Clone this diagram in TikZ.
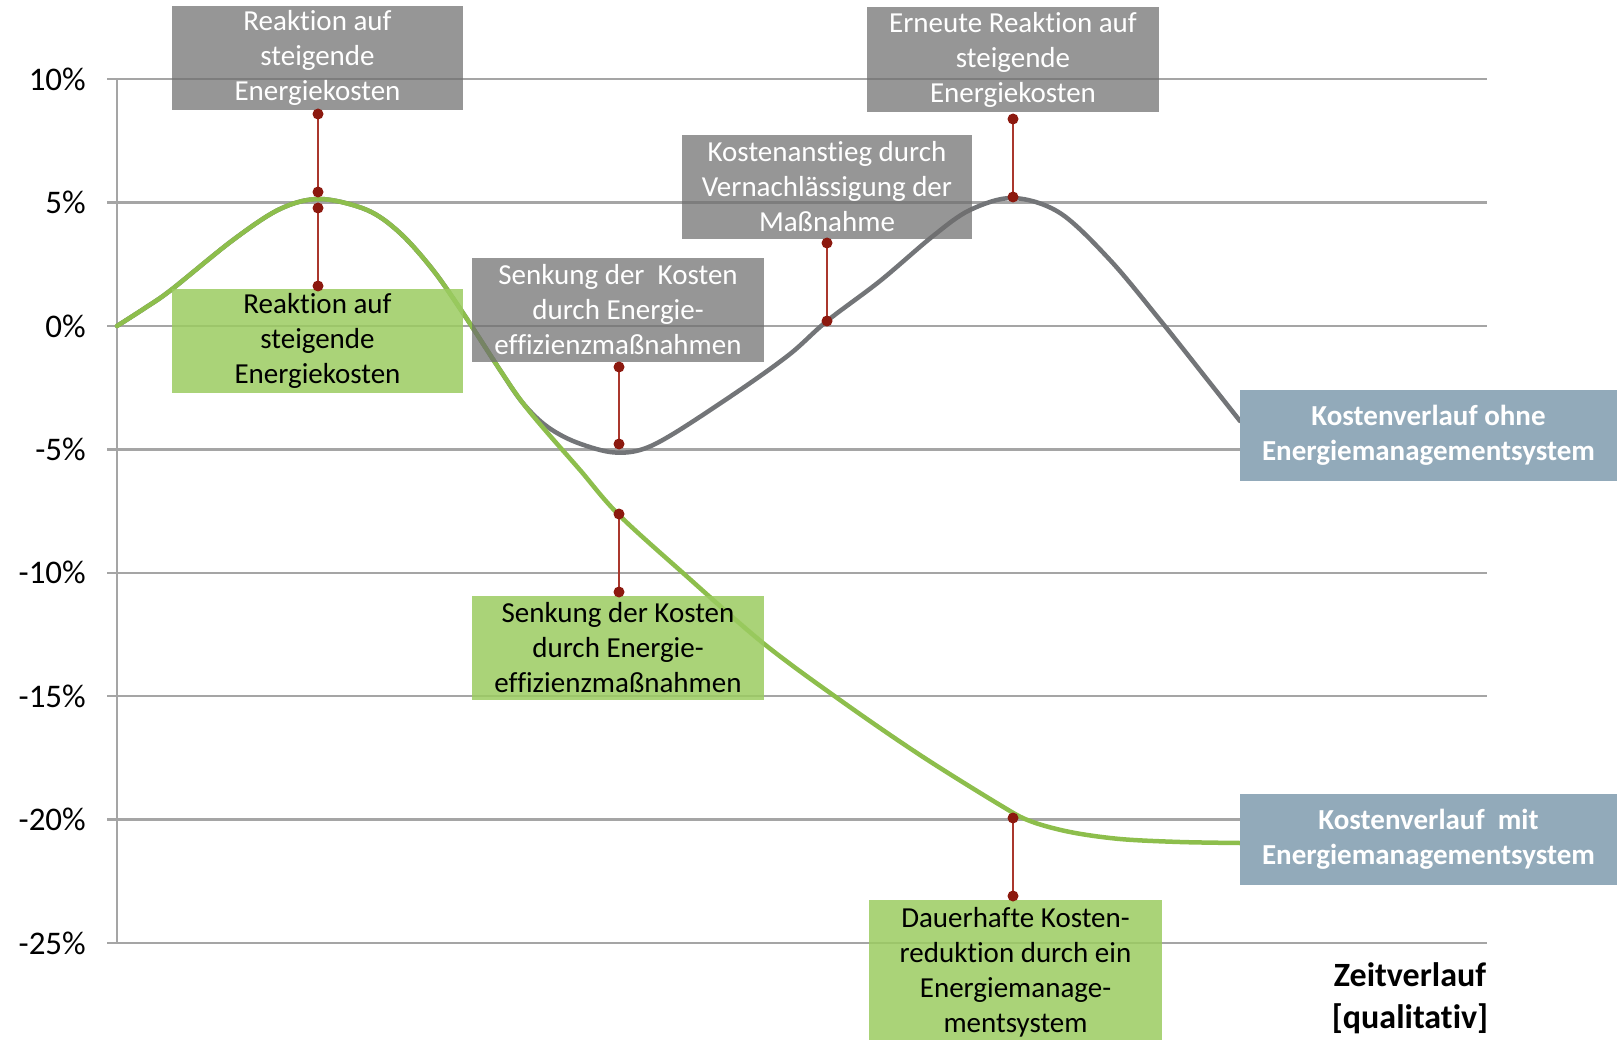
\documentclass[tikz,border=0pt]{standalone}
\usepackage{fontspec}
\setmainfont{Carlito}[Ligatures={NoCommon,NoContextual,NoRare},Contextuals={NoAlternate}]
\definecolor{gridc}{RGB}{165,165,165}
\definecolor{greyline}{RGB}{115,117,120}
\definecolor{greenline}{RGB}{141,190,76}
\definecolor{greyfill}{RGB}{110,110,110}
\definecolor{greenfill}{RGB}{155,203,96}
\definecolor{bluefill}{RGB}{146,170,186}
\definecolor{connc}{RGB}{170,55,45}
\definecolor{dotc}{RGB}{140,25,15}
\begin{document}
\begin{tikzpicture}[x=1pt,y=-1pt,
  gridline/.style={draw=gridc, line width=2.5pt},
  ylab/.style={anchor=east, inner sep=0pt, font=\fontsize{33}{40}\selectfont},
  box/.style={rectangle, inner sep=0pt, align=center, font=\fontsize{29}{35}\selectfont},
  greybox/.style={box, fill=greyfill, fill opacity=0.72, text opacity=1, text=white},
  greenbox/.style={box, fill=greenfill, fill opacity=0.85, text opacity=1, text=black},
  bluebox/.style={box, fill=bluefill, text=white, font=\fontsize{29}{35}\selectfont\bfseries},
  conn/.style={draw=connc, line width=2.2pt},
  dot/.style={fill=dotc},
  curvegrey/.style={draw=greyline, line width=4.5pt, line cap=round, line join=round},
  curvegreen/.style={draw=greenline, line width=4.5pt, line cap=round, line join=round}
]
\useasboundingbox (0,0) rectangle (1622,1040);

% grid
\foreach \v/\lab [count=\i from 0] in {10/10\%,5/5\%,0/0\%,-5/-5\%,-10/-10\%,-15/-15\%,-20/-20\%,-25/-25\%}{
  \pgfmathsetmacro{\yy}{79.2+123.4*\i}
  \draw[gridline] (107,\yy) -- (1487,\yy);
  \node[ylab] (yl\i) at (86,\yy) {\lab};
}
\draw[gridline] (117,79.2) -- (117,943);

% grey curve (without EMS)
\draw[curvegrey] plot[smooth, tension=0.55] coordinates {
 (117,326) (145,308) (171,290) (233,240) (280,209) (320,199) (367,210) (400,233)
 (433,270) (463,313) (500,370) (522,402) (545,425) (573,441) (610,452) (640,450)
 (673,434) (740,390) (790,354) (827,321) (880,281) (933,236) (970,210)
 (1013,198) (1060,213) (1110,260) (1160,320) (1210,383) (1240,421)};

% green curve (with EMS)
\draw[curvegreen] plot[smooth, tension=0.55] coordinates {
 (117,326) (145,308) (171,290) (233,240) (280,209) (320,199) (367,210) (400,233)
 (433,270) (463,313) (500,370) (522,402) (545,430) (580,470) (618,514) (683,573)
 (763,643) (840,700) (920,755) (1000,805) (1030,821) (1070,832) (1120,839)
 (1180,842) (1240,843)};

% boxes
\node[greybox, minimum width=291pt, minimum height=104pt] (g1) at (317.5,58) {Reaktion auf\\steigende\\Energiekosten};
\node[greenbox, minimum width=291pt, minimum height=104pt] (gr1) at (317.5,341) {Reaktion auf\\steigende\\Energiekosten};
\node[greybox, minimum width=292pt, minimum height=104pt] (g2) at (618,310) {Senkung der\ \ Kosten\\durch Energie-\\effizienzmaßnahmen};
\node[greybox, minimum width=290pt, minimum height=104pt] (g3) at (827,187) {Kostenanstieg durch\\Vernachlässigung der\\Maßnahme};
\node[greybox, minimum width=292pt, minimum height=105pt] (g4) at (1013,59.5) {Erneute Reaktion auf\\steigende\\Energiekosten};
\node[greenbox, minimum width=292pt, minimum height=104pt] (gr2) at (618,648) {Senkung der Kosten\\durch Energie-\\effizienzmaßnahmen};
\node[greenbox, minimum width=293pt, minimum height=144pt] (gr3) at (1015.5,972) {Dauerhafte Kosten-\\reduktion durch ein\\Energiemanage-\\mentsystem};
\node[bluebox, minimum width=377pt, minimum height=91pt] (b1) at (1428.5,435.5) {Kostenverlauf ohne\\Energiemanagementsystem};
\node[bluebox, minimum width=377pt, minimum height=91pt] (b2) at (1428.5,839.5) {Kostenverlauf\ \ mit\\Energiemanagementsystem};

\node[align=center, inner sep=0pt, font=\fontsize{34}{42}\selectfont\bfseries] (zeit) at (1410,998) {Zeitverlauf\\{[qualitativ]}};

% connectors
\coordinate (c1a) at (318,114); \coordinate (c1b) at (318,192);
\coordinate (c2a) at (318,208); \coordinate (c2b) at (318,286);
\coordinate (c3a) at (619,367); \coordinate (c3b) at (619,444);
\coordinate (c4a) at (827,243); \coordinate (c4b) at (827,321);
\coordinate (c5a) at (1013,119); \coordinate (c5b) at (1013,197);
\coordinate (c6a) at (619,514); \coordinate (c6b) at (619,592);
\coordinate (c7a) at (1013,818); \coordinate (c7b) at (1013,896);
\foreach \c in {1,...,7}{
  \draw[conn] (c\c a) -- (c\c b);
  \fill[dot] (c\c a) circle (5.5pt);
  \fill[dot] (c\c b) circle (5.5pt);
}
\end{tikzpicture}
\end{document}
